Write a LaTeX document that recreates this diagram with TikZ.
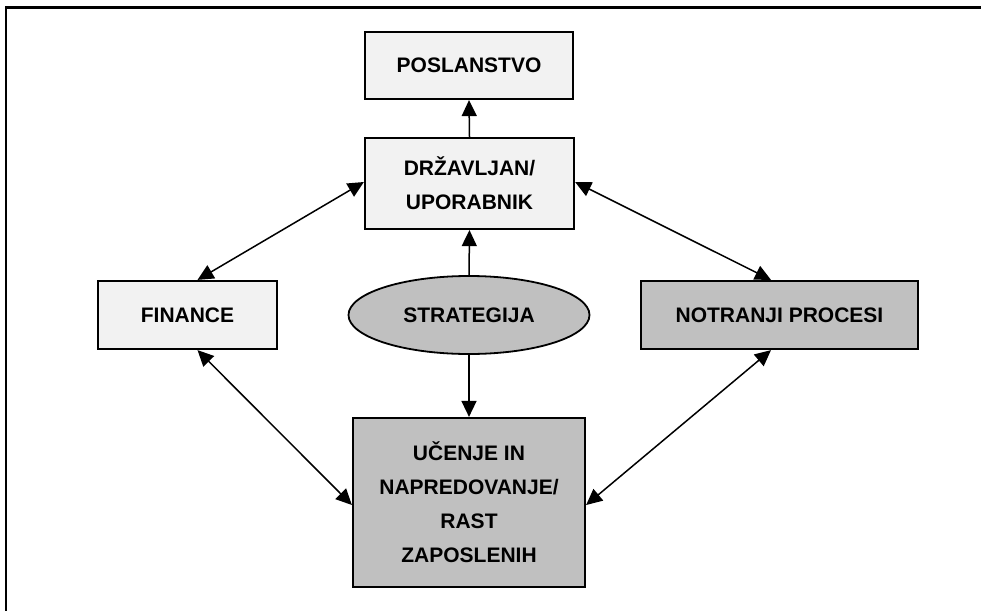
\documentclass[tikz,border=0pt]{standalone}
\usepackage{fontspec}
\setmainfont{Liberation Sans}
\usetikzlibrary{arrows.meta,shapes.geometric}
\definecolor{lightbox}{HTML}{F2F2F2}
\definecolor{darkbox}{HTML}{C0C0C0}
\begin{document}
\begin{tikzpicture}[x=1pt,y=-1pt,
  boxbase/.style={draw=black,line width=2.2pt,inner sep=0pt,align=center,
    font=\fontsize{21}{34}\selectfont\bfseries},
  lightrect/.style={boxbase,rectangle,fill=lightbox},
  darkrect/.style={boxbase,rectangle,fill=darkbox},
  darkoval/.style={boxbase,ellipse,fill=darkbox,line width=1.8pt},
  link/.style={line width=1.5pt,-{Triangle[length=16pt,width=15pt]}},
  dlink/.style={line width=1.5pt,{Triangle[length=16pt,width=15pt]}-{Triangle[length=16pt,width=15pt]}}]
\useasboundingbox (0,0) rectangle (981,610);
\fill[white] (0,0) rectangle (981,610);
% frame (clipped at right and bottom)
\draw[line width=2.5pt] (6,620) -- (6,7.5) -- (990,7.5);
% nodes
\node[lightrect,minimum width=208pt,minimum height=67pt] (pos) at (469,65.5) {POSLANSTVO};
\node[lightrect,minimum width=209pt,minimum height=91pt] (drz) at (469.5,183.5) {DRŽAVLJAN/\\UPORABNIK};
\node[lightrect,minimum width=179pt,minimum height=68pt] (fin) at (187.5,315) {FINANCE};
\node[darkoval,minimum width=241pt,minimum height=78pt] (str) at (469,315) {STRATEGIJA};
\node[darkrect,minimum width=277pt,minimum height=68pt] (not) at (779.5,315) {NOTRANJI PROCESI};
\node[darkrect,minimum width=232pt,minimum height=169pt] (uce) at (469,502.5) {UČENJE IN\\NAPREDOVANJE/\\RAST\\ZAPOSLENIH};
% connectors
\draw[link] (drz.north) -- (pos.south);
\draw[link] (str.north) -- (drz.south);
\draw[link] (str.south) -- (uce.north);
\coordinate (finT) at ([xshift=10pt]fin.north);
\coordinate (finB) at ([xshift=10pt]fin.south);
\coordinate (notT) at ([xshift=-8.5pt]not.north);
\coordinate (notB) at ([xshift=-8.5pt]not.south);
\coordinate (drzL) at ([yshift=1.5pt]drz.west);
\coordinate (drzR) at ([yshift=1.5pt]drz.east);
\coordinate (uceL) at ([yshift=-2.5pt]uce.west);
\coordinate (uceR) at ([yshift=-2.5pt]uce.east);
\draw[dlink] (finT) -- (drzL);
\draw[dlink] (drzR) -- (notT);
\draw[dlink] (finB) -- (uceL);
\draw[dlink] (notB) -- (uceR);
\end{tikzpicture}
\end{document}
